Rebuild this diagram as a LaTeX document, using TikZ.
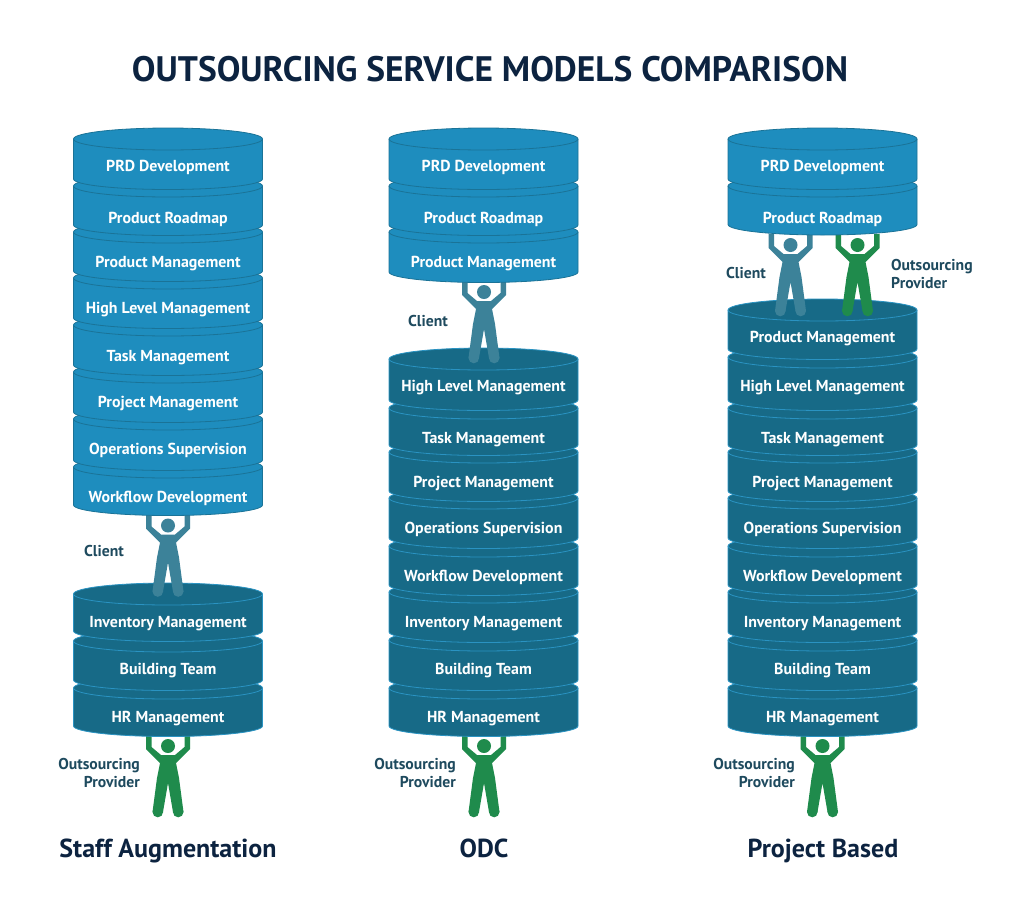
\documentclass[tikz,border=0pt]{standalone}
\usepackage{fontspec}
\setmainfont{PT Sans}
\definecolor{lightdisc}{HTML}{1E8DBE}
\definecolor{lightedge}{HTML}{1A7397}
\definecolor{darkdisc}{HTML}{176A87}
\definecolor{darkedge}{HTML}{2A93C2}
\definecolor{clientfig}{HTML}{3C8299}
\definecolor{providerfig}{HTML}{1F8B4C}
\definecolor{sidelabel}{HTML}{1E4A5E}
\definecolor{titleblue}{HTML}{0C2340}
\tikzset{
    disclabel/.style={font=\bfseries\fontsize{15.9}{17}\selectfont, text=white, anchor=base},
    whotext/.style={font=\bfseries\fontsize{15.7}{18}\selectfont, text=sidelabel, align=right, inner sep=0pt},
    whotextleft/.style={whotext, align=left},
    modelname/.style={font=\bfseries\fontsize{26}{28}\selectfont, text=titleblue, anchor=base},
    % one standing figure, origin in the head
    person/.pic={
        \fill[pic actions] (-22,-11) -- (-16.5,-11) -- (-16.5,1) -- (-7,9) -- (7,9) -- (16.5,1)
            -- (16.5,-11) -- (22,-11) -- (22,3) -- (8,17) -- (11,32) -- (15.5,66) -- (5,66) -- (0,37)
            -- (-5,66) -- (-15.5,66) -- (-11,32) -- (-8,17) -- (-22,3) -- cycle;
        \fill[pic actions] (0,0) circle (7);
        \fill[pic actions] (-10.2,66) circle (5.3);
        \fill[pic actions] (10.2,66) circle (5.3);
    }
}
% name, centre x, top y, side end y, label y, fill, edge, label
\newcommand{\stackdisc}[8]{
    \draw[line width=0.8pt, draw=#7, fill=#6] (#2-94.5,#3) -- (#2-94.5,#4)
        arc[start angle=180, end angle=0, x radius=94.5, y radius=10.5] -- (#2+94.5,#3)
        arc[start angle=0, end angle=-180, x radius=94.5, y radius=11] -- cycle;
    \draw[line width=0.8pt, draw=#7] (#2-94.5,#3) arc[start angle=180, end angle=0, x radius=94.5, y radius=11];
    \node[disclabel] (#1) at (#2,#5+5.5) {#8};
}
\begin{document}
\begin{tikzpicture}[x=1pt, y=-1pt]
\useasboundingbox (0,0) rectangle (1024,916);
\fill[white] (0,0) rectangle (1024,916);

% Title
\node[font=\bfseries\fontsize{35.4}{38}\selectfont, text=titleblue, anchor=base] (title) at (490,81) {OUTSOURCING SERVICE MODELS COMPARISON};

% Providers at the bottom
\pic[fill=providerfig] at (168,746) {person};
\pic[fill=providerfig] at (484,746) {person};
\pic[fill=providerfig] at (822.5,746) {person};
\node[whotext, anchor=east] (provider1) at (140,773) {Outsourcing\\Provider};
\node[whotext, anchor=east] (provider2) at (456,773) {Outsourcing\\Provider};
\node[whotext, anchor=east] (provider3) at (795,773) {Outsourcing\\Provider};

% Staff Augmentation, client side on top
\foreach \dname/\dtop/\dbot/\dtxt/\dlabel in {
    sa11/688/726/717/HR Management,
    sa10/641/680/669/Building Team,
    sa9/594/631/622/Inventory Management}
    \stackdisc{\dname}{168}{\dtop}{\dbot}{\dtxt}{darkdisc}{darkedge}{\dlabel};
\pic[fill=clientfig] at (168,525.5) {person};
\node[whotext] (client1) at (104,551) {Client};
\foreach \dname/\dtop/\dbot/\dtxt/\dlabel in {
    sa8/467/505/497/Workflow Development,
    sa7/419/460/449/Operations Supervision,
    sa6/372/412/402/Project Management,
    sa5/325/365/356/Task Management,
    sa4/278/318/308/High Level Management,
    sa3/232/271/262/Product Management,
    sa2/186/225/218/Product Roadmap,
    sa1/139/179/166/PRD Development}
    \stackdisc{\dname}{168}{\dtop}{\dbot}{\dtxt}{lightdisc}{lightedge}{\dlabel};
\node[modelname] (staff) at (168,857) {Staff Augmentation};

% ODC
\foreach \dname/\dtop/\dbot/\dtxt/\dlabel in {
    odc11/688/726/716.5/HR Management,
    odc10/640/680/668.5/Building Team,
    odc9/592/632/621.5/Inventory Management,
    odc8/546/585/575.5/Workflow Development,
    odc7/498/538/527.5/Operations Supervision,
    odc6/452/491/481.5/Project Management,
    odc5/408/445/437.5/Task Management,
    odc4/359/400/385.5/High Level Management}
    \stackdisc{\dname}{483.5}{\dtop}{\dbot}{\dtxt}{darkdisc}{darkedge}{\dlabel};
\pic[fill=clientfig] at (484,292) {person};
\node[whotext] (client2) at (428,321) {Client};
\foreach \dname/\dtop/\dbot/\dtxt/\dlabel in {
    odc3/232/272/262/Product Management,
    odc2/186/225/218/Product Roadmap,
    odc1/139/179/166/PRD Development}
    \stackdisc{\dname}{483.5}{\dtop}{\dbot}{\dtxt}{lightdisc}{lightedge}{\dlabel};
\node[modelname] (odc) at (484,857) {ODC};

% Project Based
\foreach \dname/\dtop/\dbot/\dtxt/\dlabel in {
    pb11/688/726/716.5/HR Management,
    pb10/640/680/668.5/Building Team,
    pb9/592/632/621.5/Inventory Management,
    pb8/546/585/575.5/Workflow Development,
    pb7/498/538/527.5/Operations Supervision,
    pb6/452/491/481.5/Project Management,
    pb5/408/445/437.5/Task Management,
    pb4/357/400/385.5/High Level Management,
    pb3/310/349/337/Product Management}
    \stackdisc{\dname}{822.5}{\dtop}{\dbot}{\dtxt}{darkdisc}{darkedge}{\dlabel};
\pic[fill=clientfig] at (790.5,245) {person};
\pic[fill=providerfig] at (857.5,245) {person};
\node[whotext] (client3) at (746,273) {Client};
\node[whotextleft, anchor=west] (provider4) at (891,274) {Outsourcing\\Provider};
\foreach \dname/\dtop/\dbot/\dtxt/\dlabel in {
    pb2/186/224.5/218/Product Roadmap,
    pb1/139/179/166/PRD Development}
    \stackdisc{\dname}{822.5}{\dtop}{\dbot}{\dtxt}{lightdisc}{lightedge}{\dlabel};
\node[modelname] (project) at (823,857) {Project Based};
\end{tikzpicture}
\end{document}
